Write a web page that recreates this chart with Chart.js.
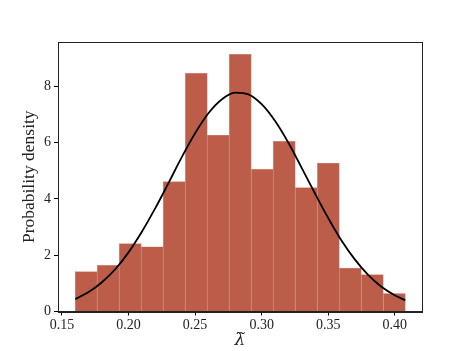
<!DOCTYPE html>
<html>
<head>
<meta charset="utf-8">
<script src="https://cdn.jsdelivr.net/npm/chart.js@4/dist/chart.umd.min.js"></script>
<style>
  html, body { margin: 0; padding: 0; background: #ffffff; }
  #wrap { width: 469px; height: 351px; }
</style>
</head>
<body>
<div id="wrap"><canvas id="c" width="469" height="351"></canvas></div>
<script>
// Histogram bin edges
const binEdges = [0.160, 0.1765, 0.1931, 0.2096, 0.2261, 0.2427, 0.2592, 0.2757, 0.2923, 0.3088, 0.3253, 0.3419, 0.3584, 0.3749, 0.3915, 0.408];
// Probability density per bin
const densities = [1.42, 1.64, 2.41, 2.30, 4.61, 8.46, 6.26, 9.13, 5.05, 6.04, 4.40, 5.27, 1.54, 1.31, 0.64];
// Fitted curve points
const curveX = [0.160, 0.170, 0.180, 0.190, 0.200, 0.210, 0.220, 0.230, 0.240, 0.250, 0.260, 0.270, 0.280, 0.290, 0.300, 0.310, 0.320, 0.330, 0.340, 0.350, 0.360, 0.370, 0.380, 0.390, 0.400, 0.408];
const curveY = [0.44, 0.69, 1.04, 1.50, 2.10, 2.83, 3.66, 4.56, 5.48, 6.33, 7.04, 7.53, 7.77, 7.71, 7.36, 6.77, 6.00, 5.11, 4.20, 3.32, 2.52, 1.85, 1.30, 0.88, 0.58, 0.40];
// Tick labels
const xTicks = [0.15, 0.20, 0.25, 0.30, 0.35, 0.40];
const yTicks = [0, 2, 4, 6, 8];
const xLabel = 'λ̃';
const yLabel = 'Probability density';

const barData = densities.map((d, i) => ({ x: (binEdges[i] + binEdges[i + 1]) / 2, y: d }));
const lineData = curveX.map((x, i) => ({ x: x, y: curveY[i] }));

const frame = {
  id: 'frame',
  afterDraw(chart) {
    const a = chart.chartArea, ctx = chart.ctx;
    ctx.save();
    ctx.strokeStyle = '#222';
    ctx.lineWidth = 1;
    ctx.strokeRect(Math.round(a.left) + 0.5, Math.round(a.top) + 0.5, Math.round(a.right - a.left), Math.round(a.bottom - a.top));
    ctx.restore();
  }
};

const tickFont = { family: 'Liberation Serif', size: 14 };

new Chart(document.getElementById('c'), {
  type: 'bar',
  data: {
    datasets: [
      {
        type: 'line',
        data: lineData,
        borderColor: '#000000',
        borderWidth: 1.8,
        pointRadius: 0,
        cubicInterpolationMode: 'monotone',
        fill: false,
        order: 0
      },
      {
        type: 'bar',
        data: barData,
        backgroundColor: 'rgb(188,93,73)',
        borderColor: 'rgb(214,140,125)',
        borderWidth: 0.7,
        barPercentage: 1.0,
        categoryPercentage: 1.0,
        order: 1
      }
    ]
  },
  plugins: [frame],
  options: {
    responsive: false,
    animation: false,
    devicePixelRatio: 1,
    layout: { padding: { left: 0, top: 42, right: 47, bottom: 0 } },
    plugins: { legend: { display: false }, tooltip: { enabled: false } },
    scales: {
      x: {
        type: 'linear',
        min: 0.147,
        max: 0.4205,
        offset: false,
        afterBuildTicks: (s) => { s.ticks = xTicks.map(v => ({ value: v })); },
        afterFit: (s) => { s.height = 39.5; },
        grid: { display: true, offset: false, drawOnChartArea: false, drawTicks: true, tickLength: 4, tickColor: '#000', tickWidth: 1 },
        border: { display: true, color: '#222', width: 1 },
        ticks: { color: '#222', font: tickFont, padding: 1, maxRotation: 0, autoSkip: false,
                 callback: (v) => v.toFixed(2) },
        title: { display: true, text: xLabel, color: '#222', font: { family: 'DejaVu Serif', size: 17, style: 'italic' }, padding: { top: 0, bottom: 0 } }
      },
      y: {
        type: 'linear',
        min: 0,
        max: 9.57,
        afterBuildTicks: (s) => { s.ticks = yTicks.map(v => ({ value: v })); },
        afterFit: (s) => { s.width = 58; },
        grid: { display: true, offset: false, drawOnChartArea: false, drawTicks: true, tickLength: 4, tickColor: '#000', tickWidth: 1 },
        border: { display: true, color: '#222', width: 1 },
        ticks: { color: '#222', font: tickFont, padding: 3, autoSkip: false,
                 callback: (v) => String(v) },
        title: { display: true, text: yLabel, color: '#222', font: { family: 'Liberation Serif', size: 17.5 }, padding: { top: 19, bottom: 0 } }
      }
    }
  }
});
</script>
</body>
</html>
